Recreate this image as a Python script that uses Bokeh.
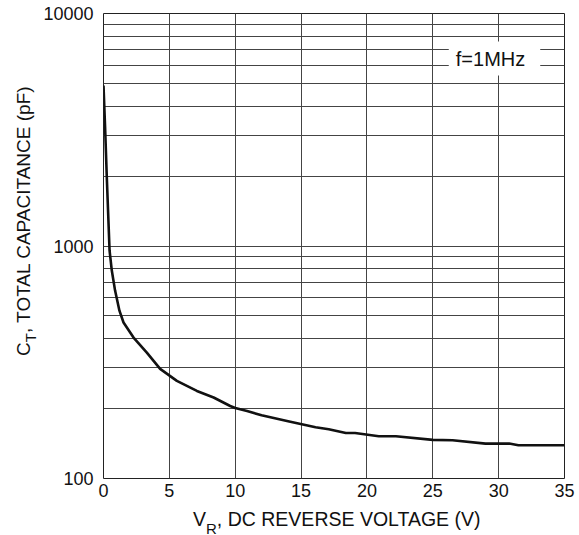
from bokeh.plotting import figure
from bokeh.models import FixedTicker, Label, Range1d, PrintfTickFormatter, Div
from bokeh.layouts import row, column
from bokeh.embed import file_html
from bokeh.resources import INLINE

# ---- data ----
voltage = [0, 0.12, 0.25, 0.32, 0.46, 0.63, 0.88, 1.21, 1.52, 2.28, 3.29, 4.30,
           5.57, 7.09, 8.36, 9.62, 10.0, 10.9, 12.0, 14.1, 16.1, 17.1, 18.4, 19.1,
           20.9, 22.2, 25.0, 26.5, 29.0, 30.8, 31.5, 35.0]
capacitance = [4900, 3250, 1980, 1550, 957, 784, 643, 527, 469, 404, 348, 296,
               263, 238, 223, 205, 201, 195, 187, 176, 166, 163, 157, 157,
               152, 152, 146.6, 146, 141.3, 141.3, 139, 139]
x_ticks = [0, 5, 10, 15, 20, 25, 30, 35]
y_ticks = [100, 1000, 10000]
y_grid = [m * d for d in (100, 1000) for m in range(1, 10)] + [10000]
freq_label = "f=1MHz"
x_label = ("V", "R", ", DC REVERSE VOLTAGE (V)")
y_label = ("C", "T", ", TOTAL CAPACITANCE (pF)")

FONT = "Liberation Sans"
TXT = "#111111"

YDIV_W = 40
p = figure(frame_width=461, frame_height=465,
           min_border_left=101 - YDIV_W, min_border_right=17,
           min_border_top=13, min_border_bottom=30,
           x_range=Range1d(0, 35), y_range=Range1d(100, 10000), y_axis_type="log",
           output_backend="svg", toolbar_location=None)
p.background_fill_color = "white"
p.border_fill_color = "white"
p.outline_line_color = "#222222"
p.outline_line_width = 1

p.xaxis.ticker = FixedTicker(ticks=x_ticks)
p.yaxis.ticker = FixedTicker(ticks=y_ticks)
p.yaxis.formatter = PrintfTickFormatter(format="%d")
p.xgrid.ticker = FixedTicker(ticks=x_ticks)
p.ygrid.ticker = FixedTicker(ticks=y_grid)
for g in (p.xgrid, p.ygrid):
    g.grid_line_color = "#444444"
    g.grid_line_width = 1

for ax in (p.xaxis, p.yaxis):
    ax.axis_line_color = None
    ax.major_tick_line_color = None
    ax.minor_tick_line_color = None
    ax.major_tick_out = 0
    ax.major_tick_in = 0
    ax.minor_tick_out = 0
    ax.minor_tick_in = 0
    ax.major_label_text_font = FONT
    ax.major_label_text_font_size = "18px"
    ax.major_label_text_color = TXT
p.xaxis.major_label_standoff = 5
p.yaxis.major_label_standoff = 10

p.line(voltage, capacitance, line_width=2.6, line_color="#111111")

# frequency note box
p.add_layout(Label(x=35, y=10000, x_offset=-70, y_offset=-45, text=freq_label,
                   text_align="center", text_baseline="middle",
                   text_font=FONT, text_font_size="20px", text_color=TXT,
                   background_fill_color="white",
                   padding={"left": 7, "right": 15, "top": 6, "bottom": 6}))

# axis titles with subscripts (HTML text)
base = f"position:absolute; white-space:nowrap; font-family:'{FONT}'; line-height:1; color:{TXT};"
sub = "font-size:15px; vertical-align:-8px; line-height:1;"

x_html = (f'<div style="{base} left:153px; top:1.5px; font-size:19.5px;">'
          f'{x_label[0]}<span style="{sub}">{x_label[1]}</span>{x_label[2]}</div>')
y_html = (f'<div style="{base} left:13.5px; top:356px; font-size:19px; '
          f'transform-origin:0 0; transform:rotate(-90deg);">'
          f'{y_label[0]}<span style="{sub} vertical-align:-6px;">{y_label[1]}</span>{y_label[2]}</div>')

p_h = 13 + 465 + 30
xdiv = Div(text=x_html, width=p.frame_width + (101 - YDIV_W) + 17, height=535 - p_h, margin=0,
           styles={"position": "relative", "overflow": "visible"})
ydiv = Div(text=y_html, width=YDIV_W, height=535, margin=0,
           styles={"position": "relative", "overflow": "visible"})

layout = row(ydiv, column(p, xdiv, spacing=0), spacing=0)

open("out.html", "w").write(file_html(layout, INLINE))
